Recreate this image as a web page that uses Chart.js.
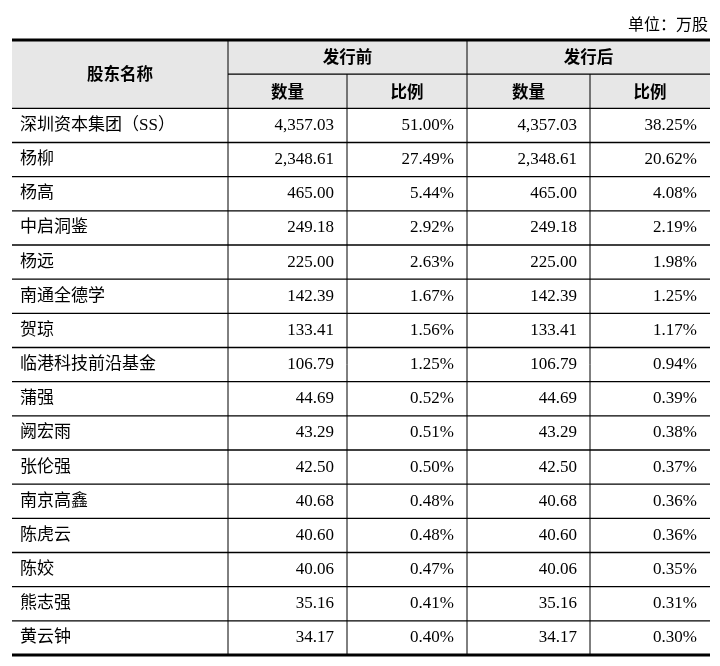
<!DOCTYPE html>
<html>
<head>
<meta charset="utf-8">
<script src="https://cdn.jsdelivr.net/npm/chart.js@4"></script>
<style>
  body { margin: 0; background: #fff; }
  canvas { display: block; }
</style>
</head>
<body>
<canvas id="table" width="720" height="666"></canvas>
<script>
const holders = ['深圳资本集团（SS）', '杨柳', '杨高', '中启洞鉴', '杨远', '南通全德学', '贺琼',
  '临港科技前沿基金', '蒲强', '阙宏雨', '张伦强', '南京高鑫', '陈虎云', '陈姣', '熊志强', '黄云钟'];
const sharesBefore = [4357.03, 2348.61, 465.00, 249.18, 225.00, 142.39, 133.41, 106.79, 44.69, 43.29, 42.50, 40.68, 40.60, 40.06, 35.16, 34.17];
const ratioBefore = [51.00, 27.49, 5.44, 2.92, 2.63, 1.67, 1.56, 1.25, 0.52, 0.51, 0.50, 0.48, 0.48, 0.47, 0.41, 0.40];
const sharesAfter = [4357.03, 2348.61, 465.00, 249.18, 225.00, 142.39, 133.41, 106.79, 44.69, 43.29, 42.50, 40.68, 40.60, 40.06, 35.16, 34.17];
const ratioAfter = [38.25, 20.62, 4.08, 2.19, 1.98, 1.25, 1.17, 0.94, 0.39, 0.38, 0.37, 0.36, 0.36, 0.35, 0.31, 0.30];
const groupLabels = ['发行前', '发行后'];
const subLabels = ['数量', '比例', '数量', '比例'];
const nameHeader = '股东名称';
const unitLabel = '单位：万股';

// column edges in x units, rows in y units (2 header rows + data rows)
const colEdges = [0, 216, 335, 455, 578, 698];
const headerRows = 2;
const totalRows = headerRows + holders.length;

const fmtNum = v => v.toLocaleString('en-US', { minimumFractionDigits: 2, maximumFractionDigits: 2 });
const fmtPct = v => v.toFixed(2) + '%';

const CJK = '"Noto Sans CJK SC", sans-serif';
const SERIF = '"Liberation Serif", "Noto Sans CJK SC", serif';

const tablePlugin = {
  id: 'tablePlugin',
  afterDraw(chart) {
    const ctx = chart.ctx;
    const x = chart.scales.x, y = chart.scales.y;
    const X = v => x.getPixelForValue(v);
    const Y = v => y.getPixelForValue(v);
    const L = X(0), R = X(colEdges[colEdges.length - 1]);

    ctx.save();
    // header background
    ctx.fillStyle = '#e7e7e7';
    ctx.fillRect(L, Y(0), R - L, Y(headerRows) - Y(0));

    ctx.strokeStyle = '#000';
    // horizontal lines
    ctx.lineWidth = 1.3;
    for (let r = 1; r < totalRows; r++) {
      const left = r === 1 ? X(colEdges[1]) : L;
      ctx.beginPath(); ctx.moveTo(left, Y(r)); ctx.lineTo(R, Y(r)); ctx.stroke();
    }
    ctx.lineWidth = 3;
    [0, totalRows].forEach(r => {
      ctx.beginPath(); ctx.moveTo(L, Y(r)); ctx.lineTo(R, Y(r)); ctx.stroke();
    });
    // vertical lines
    ctx.lineWidth = 1;
    for (let c = 1; c < colEdges.length - 1; c++) {
      const top = (c === 2 || c === 4) ? Y(1) : Y(0);
      ctx.beginPath(); ctx.moveTo(X(colEdges[c]), top); ctx.lineTo(X(colEdges[c]), Y(totalRows)); ctx.stroke();
    }

    ctx.fillStyle = '#000';
    ctx.textBaseline = 'middle';
    // unit label
    ctx.font = '16px ' + CJK;
    ctx.textAlign = 'right';
    ctx.fillText(unitLabel, R - 2, Y(0) - 16);

    // headers
    ctx.font = 'bold 16.5px ' + CJK;
    ctx.textAlign = 'center';
    ctx.fillText(nameHeader, (X(colEdges[0]) + X(colEdges[1])) / 2, Y(1));
    groupLabels.forEach((g, i) => {
      ctx.fillText(g, (X(colEdges[1 + i * 2]) + X(colEdges[3 + i * 2])) / 2, Y(0.5));
    });
    subLabels.forEach((s, i) => {
      ctx.fillText(s, (X(colEdges[1 + i]) + X(colEdges[2 + i])) / 2, Y(1.5));
    });

    // body
    holders.forEach((name, i) => {
      const cy = Y(headerRows + i + 0.5);
      ctx.textAlign = 'left';
      ctx.font = '17px ' + SERIF;
      ctx.fillText(name, L + 8, cy);
      ctx.textAlign = 'right';
      ctx.font = '17px ' + SERIF;
      const vals = [fmtNum(sharesBefore[i]), fmtPct(ratioBefore[i]), fmtNum(sharesAfter[i]), fmtPct(ratioAfter[i])];
      vals.forEach((v, c) => ctx.fillText(v, X(colEdges[c + 2]) - 13, cy));
    });
    ctx.restore();
  }
};

new Chart(document.getElementById('table'), {
  type: 'scatter',
  data: { datasets: [{ data: [] }] },
  options: {
    responsive: false,
    animation: false,
    layout: { padding: { left: 12, right: 10, top: 40, bottom: 11 } },
    plugins: { legend: { display: false }, tooltip: { enabled: false } },
    scales: {
      x: { type: 'linear', min: 0, max: colEdges[colEdges.length - 1], display: false },
      y: { type: 'linear', min: 0, max: totalRows, reverse: true, display: false }
    }
  },
  plugins: [tablePlugin]
});
</script>
</body>
</html>
